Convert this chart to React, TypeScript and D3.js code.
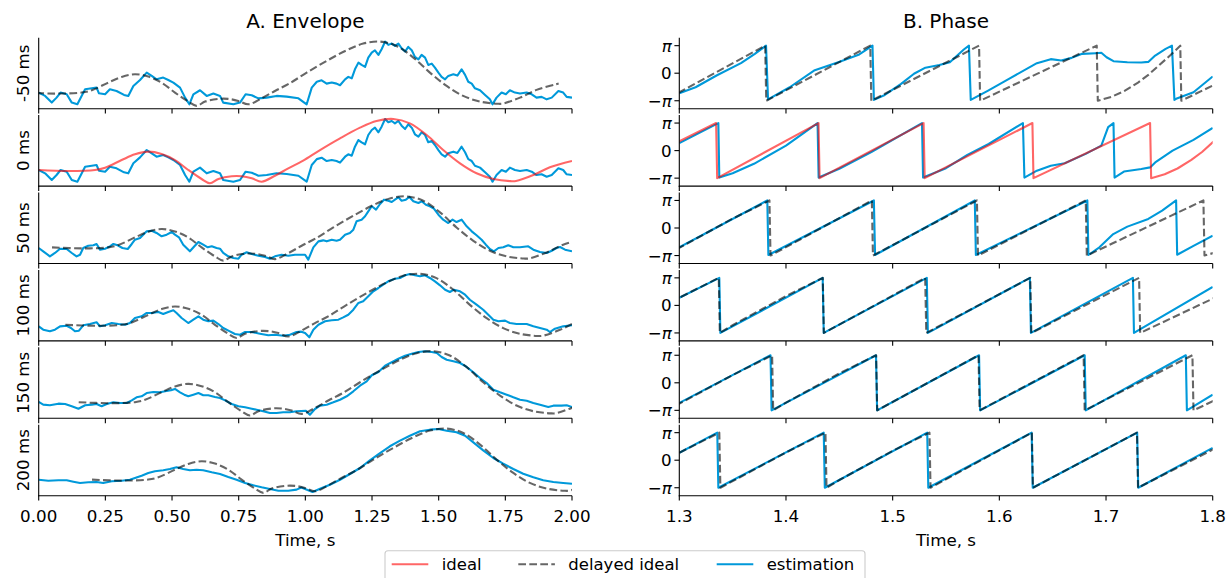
import React from "react";
import * as d3 from "d3";

type P = [number, number];

// ---------- labels / ticks ----------
const DELAYS_S = [-0.05, 0, 0.05, 0.1, 0.15, 0.2];
const ROW_LABELS = ["-50 ms", "0 ms", "50 ms", "100 ms", "150 ms", "200 ms"];
const ENV_XTICKS = [0, 0.25, 0.5, 0.75, 1.0, 1.25, 1.5, 1.75, 2.0];
const PH_XTICKS = [1.3, 1.4, 1.5, 1.6, 1.7, 1.8];
const PH_YTICKS = [-1, 0, 1]; // in units of pi
const TITLE_A = "A. Envelope";
const TITLE_B = "B. Phase";
const XLABEL = "Time, s";
const LEGEND_LABELS = ["ideal", "delayed ideal", "estimation"];

// ---------- envelope (arbitrary units) ----------
const envIdeal: P[] = [
  [0, 0.227], [0.111, 0.213], [0.211, 0.227], [0.249, 0.26], [0.311, 0.367], [0.361, 0.448],
  [0.411, 0.485], [0.461, 0.452], [0.511, 0.367], [0.561, 0.227], [0.611, 0.1], [0.642, 0.04],
  [0.674, 0.1], [0.724, 0.138], [0.761, 0.138], [0.799, 0.11], [0.836, 0.062], [0.886, 0.146],
  [0.936, 0.25], [0.99, 0.355], [1.055, 0.508], [1.13, 0.673], [1.205, 0.823], [1.267, 0.917],
  [1.33, 0.945], [1.392, 0.884], [1.455, 0.72], [1.517, 0.508], [1.58, 0.32], [1.642, 0.18],
  [1.705, 0.1], [1.77, 0.07], [1.79, 0.072], [1.855, 0.156], [1.917, 0.265], [2.0, 0.354],
];

const envEst0: P[] = [
  [0, 0.227], [0.024, 0.18], [0.049, 0.086], [0.067, 0.156], [0.082, 0.227], [0.105, 0.203],
  [0.124, 0.086], [0.145, 0.062], [0.174, 0.273], [0.199, 0.287], [0.217, 0.297], [0.226, 0.217],
  [0.249, 0.203], [0.267, 0.273], [0.292, 0.25], [0.32, 0.194], [0.336, 0.18], [0.355, 0.321],
  [0.38, 0.405], [0.405, 0.508], [0.424, 0.462], [0.442, 0.414], [0.467, 0.438], [0.486, 0.405],
  [0.505, 0.368], [0.53, 0.297], [0.549, 0.156], [0.565, 0.062], [0.58, 0.203], [0.605, 0.26],
  [0.63, 0.18], [0.655, 0.213], [0.68, 0.18], [0.692, 0.086], [0.73, 0.062], [0.755, 0.086],
  [0.776, 0.203], [0.799, 0.189], [0.824, 0.146], [0.855, 0.156], [0.892, 0.18], [0.93, 0.17],
  [0.974, 0.146], [1.005, 0.062], [1.024, 0.297], [1.043, 0.38], [1.061, 0.4], [1.08, 0.353],
  [1.099, 0.368], [1.117, 0.353], [1.13, 0.33], [1.149, 0.414], [1.161, 0.448], [1.174, 0.428],
  [1.186, 0.555], [1.199, 0.649], [1.211, 0.617], [1.224, 0.589], [1.236, 0.72], [1.249, 0.79],
  [1.261, 0.823], [1.274, 0.758], [1.286, 0.837], [1.299, 0.945], [1.311, 0.899], [1.324, 0.917],
  [1.336, 0.884], [1.349, 0.917], [1.361, 0.851], [1.374, 0.804], [1.386, 0.87], [1.399, 0.823],
  [1.411, 0.73], [1.424, 0.696], [1.436, 0.758], [1.449, 0.72], [1.461, 0.617], [1.474, 0.635],
  [1.486, 0.579], [1.499, 0.508], [1.511, 0.448], [1.524, 0.414], [1.536, 0.462], [1.555, 0.485],
  [1.57, 0.466], [1.586, 0.555], [1.599, 0.476], [1.611, 0.38], [1.624, 0.353], [1.636, 0.287],
  [1.655, 0.26], [1.674, 0.194], [1.692, 0.132], [1.702, 0.062], [1.717, 0.156], [1.736, 0.227],
  [1.752, 0.203], [1.767, 0.26], [1.786, 0.227], [1.805, 0.213], [1.83, 0.227], [1.849, 0.203],
  [1.867, 0.156], [1.886, 0.166], [1.905, 0.132], [1.924, 0.156], [1.949, 0.25], [1.967, 0.227],
  [1.98, 0.166], [2.0, 0.156],
];

const envEst50: P[] = [
  [0, 0.218], [0.017, 0.172], [0.042, 0.101], [0.061, 0.148], [0.08, 0.208], [0.105, 0.204],
  [0.124, 0.148], [0.142, 0.101], [0.155, 0.124], [0.167, 0.218], [0.186, 0.251], [0.205, 0.256],
  [0.217, 0.275], [0.23, 0.195], [0.249, 0.208], [0.267, 0.242], [0.28, 0.275], [0.296, 0.256],
  [0.314, 0.218], [0.334, 0.204], [0.349, 0.275], [0.361, 0.335], [0.38, 0.359], [0.392, 0.406],
  [0.405, 0.453], [0.424, 0.462], [0.442, 0.43], [0.461, 0.383], [0.48, 0.406], [0.499, 0.444],
  [0.511, 0.406], [0.526, 0.369], [0.542, 0.265], [0.567, 0.172], [0.584, 0.242], [0.599, 0.303],
  [0.617, 0.265], [0.634, 0.228], [0.649, 0.242], [0.667, 0.218], [0.68, 0.208], [0.692, 0.148],
  [0.711, 0.101], [0.73, 0.077], [0.749, 0.068], [0.761, 0.124], [0.78, 0.158], [0.799, 0.134],
  [0.824, 0.11], [0.849, 0.092], [0.867, 0.068], [0.886, 0.101], [0.911, 0.124], [0.936, 0.11],
  [0.961, 0.124], [0.999, 0.124], [1.011, 0.054], [1.03, 0.228], [1.049, 0.312], [1.067, 0.326],
  [1.08, 0.312], [1.099, 0.335], [1.117, 0.321], [1.13, 0.335], [1.149, 0.406], [1.167, 0.43],
  [1.18, 0.476], [1.192, 0.594], [1.211, 0.617], [1.224, 0.665], [1.236, 0.735], [1.249, 0.806],
  [1.265, 0.758], [1.28, 0.838], [1.295, 0.899], [1.311, 0.885], [1.324, 0.866], [1.336, 0.899],
  [1.349, 0.932], [1.361, 0.885], [1.377, 0.899], [1.39, 0.937], [1.405, 0.876], [1.424, 0.852],
  [1.436, 0.876], [1.452, 0.828], [1.467, 0.806], [1.482, 0.772], [1.499, 0.687], [1.517, 0.617],
  [1.536, 0.57], [1.552, 0.617], [1.567, 0.584], [1.586, 0.617], [1.605, 0.524], [1.624, 0.453],
  [1.642, 0.397], [1.661, 0.335], [1.677, 0.265], [1.692, 0.204], [1.707, 0.172], [1.724, 0.218],
  [1.742, 0.228], [1.761, 0.256], [1.78, 0.228], [1.805, 0.228], [1.836, 0.242], [1.855, 0.195],
  [1.88, 0.162], [1.905, 0.148], [1.924, 0.18], [1.942, 0.218], [1.955, 0.232], [1.974, 0.195],
  [2.0, 0.172],
];

const envEst100: P[] = [
  [0, 0.205], [0.017, 0.158], [0.042, 0.135], [0.061, 0.158], [0.08, 0.205], [0.105, 0.214],
  [0.121, 0.182], [0.136, 0.135], [0.151, 0.144], [0.167, 0.22], [0.192, 0.238], [0.217, 0.262],
  [0.23, 0.205], [0.249, 0.22], [0.274, 0.252], [0.299, 0.238], [0.324, 0.228], [0.342, 0.252],
  [0.361, 0.323], [0.386, 0.346], [0.405, 0.393], [0.424, 0.393], [0.449, 0.407], [0.467, 0.379],
  [0.486, 0.407], [0.505, 0.431], [0.517, 0.393], [0.536, 0.323], [0.561, 0.252], [0.58, 0.299],
  [0.599, 0.346], [0.617, 0.299], [0.636, 0.276], [0.655, 0.285], [0.674, 0.238], [0.692, 0.182],
  [0.717, 0.135], [0.736, 0.097], [0.755, 0.087], [0.774, 0.125], [0.799, 0.125], [0.83, 0.101],
  [0.861, 0.079], [0.886, 0.087], [0.917, 0.073], [0.942, 0.087], [0.967, 0.125], [0.985, 0.13],
  [0.999, 0.111], [1.015, 0.051], [1.03, 0.158], [1.049, 0.228], [1.074, 0.276], [1.099, 0.29],
  [1.124, 0.299], [1.142, 0.332], [1.161, 0.369], [1.18, 0.439], [1.199, 0.534], [1.217, 0.558],
  [1.236, 0.628], [1.255, 0.699], [1.274, 0.745], [1.292, 0.792], [1.311, 0.839], [1.336, 0.876],
  [1.355, 0.886], [1.374, 0.924], [1.392, 0.942], [1.411, 0.924], [1.43, 0.91], [1.449, 0.924],
  [1.467, 0.886], [1.486, 0.839], [1.505, 0.783], [1.524, 0.721], [1.542, 0.689], [1.557, 0.721],
  [1.58, 0.699], [1.599, 0.651], [1.617, 0.58], [1.642, 0.51], [1.667, 0.439], [1.686, 0.369],
  [1.705, 0.299], [1.724, 0.276], [1.749, 0.285], [1.767, 0.252], [1.792, 0.238], [1.83, 0.238],
  [1.855, 0.205], [1.88, 0.182], [1.905, 0.158], [1.917, 0.125], [1.936, 0.172], [1.967, 0.205],
  [2.0, 0.22],
];

const envEst150: P[] = [
  [0, 0.23], [0.017, 0.192], [0.042, 0.183], [0.074, 0.206], [0.099, 0.202], [0.124, 0.169],
  [0.149, 0.135], [0.174, 0.183], [0.199, 0.192], [0.217, 0.202], [0.236, 0.169], [0.255, 0.202],
  [0.28, 0.225], [0.305, 0.215], [0.33, 0.215], [0.349, 0.253], [0.367, 0.296], [0.386, 0.31],
  [0.405, 0.356], [0.43, 0.37], [0.455, 0.366], [0.474, 0.38], [0.496, 0.394], [0.511, 0.413],
  [0.53, 0.366], [0.546, 0.333], [0.561, 0.31], [0.58, 0.333], [0.599, 0.356], [0.617, 0.324],
  [0.636, 0.324], [0.661, 0.3], [0.68, 0.286], [0.699, 0.253], [0.724, 0.202], [0.749, 0.169],
  [0.774, 0.155], [0.799, 0.135], [0.817, 0.121], [0.842, 0.099], [0.867, 0.075], [0.892, 0.075],
  [0.917, 0.085], [0.942, 0.085], [0.967, 0.099], [1.002, 0.107], [1.017, 0.051], [1.036, 0.131],
  [1.055, 0.178], [1.08, 0.192], [1.105, 0.225], [1.13, 0.262], [1.155, 0.31], [1.18, 0.38],
  [1.205, 0.459], [1.23, 0.521], [1.249, 0.606], [1.274, 0.652], [1.299, 0.741], [1.324, 0.789],
  [1.349, 0.839], [1.374, 0.882], [1.399, 0.91], [1.424, 0.934], [1.449, 0.944], [1.474, 0.934],
  [1.493, 0.92], [1.511, 0.863], [1.53, 0.825], [1.555, 0.803], [1.58, 0.779], [1.605, 0.723],
  [1.63, 0.648], [1.655, 0.568], [1.68, 0.497], [1.705, 0.403], [1.73, 0.366], [1.755, 0.333],
  [1.78, 0.296], [1.805, 0.262], [1.83, 0.248], [1.855, 0.215], [1.88, 0.192], [1.911, 0.159],
  [1.93, 0.178], [1.961, 0.178], [1.98, 0.183], [2.0, 0.159],
];

const envEst200: P[] = [
  [0, 0.225], [0.036, 0.211], [0.074, 0.217], [0.105, 0.217], [0.13, 0.197], [0.155, 0.179],
  [0.186, 0.189], [0.217, 0.193], [0.242, 0.179], [0.274, 0.203], [0.311, 0.211], [0.342, 0.225],
  [0.361, 0.249], [0.386, 0.282], [0.411, 0.32], [0.436, 0.344], [0.467, 0.358], [0.492, 0.376],
  [0.517, 0.4], [0.542, 0.376], [0.567, 0.358], [0.592, 0.366], [0.617, 0.358], [0.649, 0.33],
  [0.68, 0.306], [0.711, 0.263], [0.742, 0.225], [0.774, 0.179], [0.805, 0.146], [0.836, 0.118],
  [0.867, 0.094], [0.899, 0.07], [0.936, 0.07], [0.967, 0.085], [0.985, 0.115], [0.999, 0.094],
  [1.027, 0.052], [1.055, 0.099], [1.092, 0.155], [1.13, 0.225], [1.167, 0.306], [1.205, 0.39],
  [1.242, 0.498], [1.28, 0.601], [1.317, 0.696], [1.355, 0.775], [1.392, 0.845], [1.43, 0.907],
  [1.467, 0.93], [1.499, 0.939], [1.53, 0.915], [1.567, 0.893], [1.599, 0.845], [1.63, 0.752],
  [1.667, 0.639], [1.705, 0.531], [1.742, 0.451], [1.78, 0.376], [1.817, 0.31], [1.855, 0.259],
  [1.892, 0.217], [1.93, 0.193], [1.967, 0.179], [2.0, 0.169],
];

const envEstimates: P[][] = [envEst0, envEst0, envEst50, envEst100, envEst150, envEst200];

// ---------- phase (in units of pi) ----------
const phaseIdeal: P[] = [
  [1.1, 0.27], [1.1375, 1.0], [1.1385, -1.0], [1.2, 0.28], [1.237, 1.0], [1.238, -1.0],
  [1.25, -0.72], [1.3, 0.34], [1.3345, 1.0], [1.3355, -1.0], [1.4305, 1.0], [1.4315, -1.0],
  [1.529, 1.0], [1.53, -1.0], [1.631, 1.0], [1.632, -1.0], [1.7413, 1.0], [1.7423, -1.0],
  [1.755, -0.86], [1.767, -0.65], [1.78, -0.34], [1.79, -0.05], [1.8, 0.3], [1.81, 0.64],
  [1.8196, 1.0], [1.8206, -1.0], [1.85, -0.45],
];

const phaseEstM50: P[] = [
  [1.3, -0.727], [1.3153, -0.51], [1.3349, -0.085], [1.3578, 0.364], [1.3708, 0.703], [1.3813, 1.0],
  [1.3832, -0.95], [1.4035, -0.51], [1.4263, 0.097], [1.449, 0.4], [1.4687, 0.68], [1.4811, 1.0],
  [1.4824, -0.97], [1.4916, -0.81], [1.5079, -0.39], [1.52, -0.02], [1.5307, 0.2], [1.5438, 0.3],
  [1.5536, 0.4], [1.5667, 0.86], [1.5715, 1.0], [1.5732, -0.97], [1.5895, -0.63], [1.609, -0.206],
  [1.6352, 0.364], [1.6482, 0.51], [1.658, 0.46], [1.6678, 0.557], [1.6776, 0.703], [1.6906, 0.727],
  [1.6956, 0.74], [1.7005, 0.58], [1.707, 0.436], [1.72, 0.4], [1.7331, 0.39], [1.7396, 0.41],
  [1.7461, 0.642], [1.7559, 0.885], [1.7618, 1.0], [1.7641, -0.97], [1.7657, -0.93], [1.782, -0.69],
  [1.8, -0.12],
];

const phaseEst0: P[] = [
  [1.3, 0.27], [1.3366, 1.0], [1.3375, -0.98], [1.35, -0.82], [1.37, -0.48], [1.4, 0.18],
  [1.4296, 1.0], [1.4306, -0.98], [1.45, -0.66], [1.48, -0.05], [1.5275, 1.0], [1.5285, -0.98],
  [1.55, -0.64], [1.57, -0.16], [1.59, 0.24], [1.6221, 1.0], [1.6235, -0.98], [1.6352, -0.73],
  [1.6482, -0.55], [1.6613, -0.46], [1.6809, -0.12], [1.6956, 0.18], [1.702, 0.85], [1.707, 1.0],
  [1.708, -0.98], [1.7168, -0.76], [1.7331, -0.67], [1.7413, -0.61], [1.7461, -0.43], [1.7624, 0.0],
  [1.782, 0.39], [1.8, 0.82],
];

const phaseEst50: P[] = [
  [1.3, -0.7], [1.3825, 1.0], [1.3835, -0.98], [1.4824, 1.0], [1.4835, -0.98], [1.577, 1.0],
  [1.578, -0.98], [1.6825, 1.0], [1.6835, -0.98], [1.6938, -0.7], [1.7068, -0.22], [1.72, 0.05],
  [1.7396, 0.33], [1.7526, 0.63], [1.7657, 1.0], [1.7667, -0.97], [1.782, -0.65], [1.8, -0.28],
];

const phaseEst100: P[] = [
  [1.3, 0.28], [1.3375, 1.0], [1.3385, -1.0], [1.4344, 1.0], [1.4354, -1.0], [1.532, 1.0],
  [1.533, -1.0], [1.6286, 1.0], [1.6296, -1.0], [1.7252, 1.0], [1.7262, -1.0], [1.733, -0.84],
  [1.8, 0.67],
];

const phaseEst150: P[] = [
  [1.3, -0.73], [1.3855, 1.0], [1.3865, -1.0], [1.4844, 1.0], [1.4854, -1.0], [1.581, 1.0],
  [1.582, -1.0], [1.68, 1.0], [1.681, -1.0], [1.7748, 1.0], [1.7758, -1.0], [1.8, -0.43],
];

const phaseEst200: P[] = [
  [1.3, 0.27], [1.3356, 1.0], [1.3366, -1.0], [1.4354, 1.0], [1.4364, -1.0], [1.5324, 1.0],
  [1.5334, -1.0], [1.6303, 1.0], [1.6313, -1.0], [1.7292, 1.0], [1.7302, -1.0], [1.8, 0.45],
];

const phaseEstimates: P[][] = [phaseEstM50, phaseEst0, phaseEst50, phaseEst100, phaseEst150, phaseEst200];

// ---------- styles ----------
const BLUE = "#0099da";
const RED = "#ff0000";
const GRAY = "#000000";
const FONT = "DejaVu Sans, Verdana, sans-serif";
const LW = 2.1;
const DASH = "7.7 3.3";

const PANEL_H = 71;
const ROW_PITCH = 77.4;
const FIRST_BOTTOM = 108.7;
const ENV_X = [38.7, 572];
const PH_X = [679.3, 1212.7];
const TICK_LEN = 4.9;

function piLabel(v: number) {
  if (v === 0) return <tspan>0</tspan>;
  return (
    <>
      {v < 0 ? <tspan>−</tspan> : null}
      <tspan fontStyle="italic">π</tspan>
    </>
  );
}

export default function App() {
  const xEnv = d3.scaleLinear().domain([0, 2]).range(ENV_X);
  const xPh = d3.scaleLinear().domain([1.3, 1.8]).range(PH_X);
  const fmtEnv = d3.format(".2f");
  const fmtPh = d3.format(".1f");

  const panels = DELAYS_S.map((d, i) => {
    const bottom = FIRST_BOTTOM + ROW_PITCH * i;
    const top = bottom - PANEL_H;
    const yEnv = d3.scaleLinear().domain([0, 1]).range([bottom, top]);
    const yPh = d3.scaleLinear().domain([-1.289, 1.289]).range([bottom, top]);
    const lineEnv = d3.line<P>().x((p) => xEnv(p[0])).y((p) => yEnv(p[1]));
    const linePh = d3.line<P>().x((p) => xPh(p[0])).y((p) => yPh(p[1]));
    const shiftedEnv: P[] = envIdeal.map(([t, v]) => [t + d, v] as P);
    const shiftedPh: P[] = phaseIdeal.map(([t, v]) => [t + d, v] as P);
    const isIdeal = d === 0;
    const last = i === DELAYS_S.length - 1;
    const midY = (top + bottom) / 2;
    return (
      <g key={i}>
        <defs>
          <clipPath id={`ce${i}`}>
            <rect x={ENV_X[0]} y={top} width={ENV_X[1] - ENV_X[0]} height={PANEL_H} />
          </clipPath>
          <clipPath id={`cp${i}`}>
            <rect x={PH_X[0]} y={top} width={PH_X[1] - PH_X[0]} height={PANEL_H} />
          </clipPath>
        </defs>

        {/* Envelope panel */}
        <g clipPath={`url(#ce${i})`} fill="none" strokeLinejoin="round">
          <path d={lineEnv(envEstimates[i]) ?? ""} stroke={BLUE} strokeWidth={LW} />
          {isIdeal ? (
            <path d={d3.line<P>().x((p) => xEnv(p[0])).y((p) => yEnv(p[1])).curve(d3.curveCatmullRom.alpha(0.5))(shiftedEnv) ?? ""}
              stroke={RED} strokeOpacity={0.6} strokeWidth={LW} />
          ) : (
            <path d={d3.line<P>().x((p) => xEnv(p[0])).y((p) => yEnv(p[1])).curve(d3.curveCatmullRom.alpha(0.5))(shiftedEnv) ?? ""}
              stroke={GRAY} strokeOpacity={0.6} strokeWidth={LW} strokeDasharray={DASH} />
          )}
        </g>
        {/* Phase panel */}
        <g clipPath={`url(#cp${i})`} fill="none" strokeLinejoin="round">
          <path d={linePh(phaseEstimates[i]) ?? ""} stroke={BLUE} strokeWidth={LW} />
          {isIdeal ? (
            <path d={linePh(shiftedPh) ?? ""} stroke={RED} strokeOpacity={0.6} strokeWidth={LW} />
          ) : (
            <path d={linePh(shiftedPh) ?? ""} stroke={GRAY} strokeOpacity={0.6} strokeWidth={LW} strokeDasharray={DASH} />
          )}
        </g>

        {/* spines */}
        <g stroke="#000" strokeWidth={1.1} fill="none">
          <line x1={ENV_X[0]} x2={ENV_X[0]} y1={top} y2={bottom + 0.55} />
          <line x1={ENV_X[0] - 0.55} x2={ENV_X[1]} y1={bottom} y2={bottom} />
          <line x1={PH_X[0]} x2={PH_X[0]} y1={top} y2={bottom + 0.55} />
          <line x1={PH_X[0] - 0.55} x2={PH_X[1]} y1={bottom} y2={bottom} />
          {ENV_XTICKS.map((t) => (
            <line key={`et${t}`} x1={xEnv(t)} x2={xEnv(t)} y1={bottom} y2={bottom + TICK_LEN} />
          ))}
          {PH_XTICKS.map((t) => (
            <line key={`pt${t}`} x1={xPh(t)} x2={xPh(t)} y1={bottom} y2={bottom + TICK_LEN} />
          ))}
          {PH_YTICKS.map((v) => (
            <line key={`py${v}`} x1={PH_X[0] - TICK_LEN} x2={PH_X[0]} y1={yPh(v)} y2={yPh(v)} />
          ))}
        </g>

        {/* y tick labels (phase) */}
        {PH_YTICKS.map((v) => (
          <text key={`pyl${v}`} x={PH_X[0] - 7.6} y={yPh(v)} dy="0.36em" textAnchor="end" fontSize={16.7} fill="#000">
            {piLabel(v)}
          </text>
        ))}

        {/* row label */}
        <text transform={`translate(29.3,${midY}) rotate(-90)`} textAnchor="middle" fontSize={16.7} fill="#000">
          {ROW_LABELS[i]}
        </text>

        {last && (
          <g fontSize={16.7} fill="#000" textAnchor="middle">
            {ENV_XTICKS.map((t) => (
              <text key={`etl${t}`} x={xEnv(t)} y={bottom + 26}>{fmtEnv(t)}</text>
            ))}
            {PH_XTICKS.map((t) => (
              <text key={`ptl${t}`} x={xPh(t)} y={bottom + 26}>{fmtPh(t)}</text>
            ))}
            <text x={(ENV_X[0] + ENV_X[1]) / 2} y={545.5}>{XLABEL}</text>
            <text x={(PH_X[0] + PH_X[1]) / 2} y={545.5}>{XLABEL}</text>
          </g>
        )}
      </g>
    );
  });

  const legendItems = [
    { label: LEGEND_LABELS[0], color: RED, opacity: 0.6, dash: undefined as string | undefined, x: 391.7 },
    { label: LEGEND_LABELS[1], color: GRAY, opacity: 0.6, dash: DASH, x: 518.3 },
    { label: LEGEND_LABELS[2], color: BLUE, opacity: 1, dash: undefined, x: 716.7 },
  ];

  return (
    <svg width={1228} height={578} style={{ position: "absolute", left: 0, top: 0 }} fontFamily={FONT}>
      <rect x={0} y={0} width={1228} height={578} fill="#fff" />
      <text x={(ENV_X[0] + ENV_X[1]) / 2} y={28.3} textAnchor="middle" fontSize={20} fill="#000">{TITLE_A}</text>
      <text x={(PH_X[0] + PH_X[1]) / 2} y={28.3} textAnchor="middle" fontSize={20} fill="#000">{TITLE_B}</text>
      {panels}
      <g>
        <rect x={385} y={550.7} width={480} height={40} rx={3} fill="#fff" fillOpacity={0.8} stroke="#cccccc" strokeWidth={1.1} />
        {legendItems.map((it) => (
          <g key={it.label}>
            <line x1={it.x} x2={it.x + 36.6} y1={564.3} y2={564.3} stroke={it.color} strokeOpacity={it.opacity}
              strokeWidth={LW} strokeDasharray={it.dash} />
            <text x={it.x + 50} y={564.3} dy="0.36em" fontSize={16.5} fill="#000">{it.label}</text>
          </g>
        ))}
      </g>
    </svg>
  );
}
